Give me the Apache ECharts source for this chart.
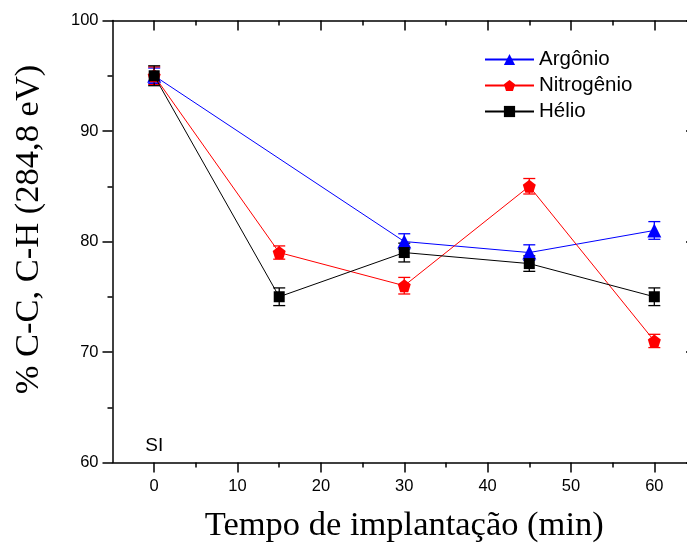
<!DOCTYPE html>
<html>
<head>
<meta charset="utf-8">
<script src="https://cdn.jsdelivr.net/npm/echarts@6/dist/echarts.min.js"></script>
<style>
html, body { margin: 0; padding: 0; background: #fff; }
#chart { width: 687px; height: 543px; }
</style>
</head>
<body>
<div id="chart"></div>
<script>
var xTicks = [0, 10, 20, 30, 40, 50, 60];
var xMinorTicks = [5, 15, 25, 35, 45, 55];
var yTicks = [60, 70, 80, 90, 100];

var argonX = [0, 30, 45, 60];
var argonY = [95, 80, 79, 81];
var argonErr = [0.7, 0.7, 0.7, 0.8];

var nitroX = [0, 15, 30, 45, 60];
var nitroY = [95, 79, 76, 85, 71];
var nitroErr = [0.8, 0.6, 0.75, 0.7, 0.6];

var helioX = [0, 15, 30, 45, 60];
var helioY = [95, 75, 79, 78, 75];
var helioErr = [0.9, 0.8, 0.85, 0.7, 0.8];

var pentagon = 'path://M0,-1 L0.951,-0.309 L0.588,0.809 L-0.588,0.809 L-0.951,-0.309 Z';

function pairs(xs, ys) {
	var out = [];
	for (var i = 0; i < xs.length; i++) out.push([xs[i], ys[i]]);
	return out;
}

function errData(xs, ys, es) {
	var out = [];
	for (var i = 0; i < xs.length; i++) out.push([xs[i], ys[i] - es[i], ys[i] + es[i]]);
	return out;
}

// barras de erro desenhadas com series custom
function errSeries(name, color, xs, ys, es) {
	return {
		name: name + ' (erro)',
		type: 'custom',
		data: errData(xs, ys, es),
		z: 1,
		silent: true,
		renderItem: function (params, api) {
			var x = api.value(0);
			var lo = api.coord([x, api.value(1)]);
			var hi = api.coord([x, api.value(2)]);
			var w = 6;
			var st = { stroke: color, lineWidth: 1.3 };
			return {
				type: 'group',
				children: [
					{ type: 'line', shape: { x1: lo[0], y1: lo[1], x2: hi[0], y2: hi[1] }, style: st },
					{ type: 'line', shape: { x1: lo[0] - w, y1: lo[1], x2: lo[0] + w, y2: lo[1] }, style: st },
					{ type: 'line', shape: { x1: hi[0] - w, y1: hi[1], x2: hi[0] + w, y2: hi[1] }, style: st }
				]
			};
		}
	};
}

var chart = echarts.init(document.getElementById('chart'));

var sans = 'Liberation Sans, Arial, sans-serif';
var serif = 'Liberation Serif, Times New Roman, serif';
var axisLine = { show: true, onZero: false, lineStyle: { color: '#000', width: 1.5 } };
var noLine = { show: false, onZero: false };
var tickStyle = { color: '#000', width: 1.5 };

// eixos x: principal, menores, e espelho no topo
function xAxisDef(pos, ticks, len, inside, withLine, withLabel) {
	var ax = {
		type: 'value',
		min: -5, max: 65, interval: 10,
		position: pos,
		axisLine: withLine ? axisLine : noLine,
		axisTick: { show: true, inside: inside, length: len, lineStyle: tickStyle, customValues: ticks },
		axisLabel: { show: false },
		splitLine: { show: false }
	};
	if (withLabel) {
		ax.axisLabel = { show: true, margin: 15, customValues: xTicks, color: '#000', fontSize: 16.5, fontFamily: sans };
		ax.name = 'Tempo de implantação (min)';
		ax.nameLocation = 'middle';
		ax.nameGap = 46;
		ax.nameTextStyle = { color: '#000', fontSize: 34.5, fontFamily: serif };
	}
	return ax;
}

var option = {
	animation: false,
	backgroundColor: '#fff',
	grid: { left: 112.5, width: 583.5, top: 20.5, height: 442, outerBoundsMode: 'none', containLabel: false },
	legend: {
		orient: 'vertical',
		left: 479,
		top: 44,
		itemWidth: 49,
		itemHeight: 14,
		itemGap: 5,
		textStyle: { color: '#000', fontSize: 20.5, fontFamily: sans },
		data: ['Argônio', 'Nitrogênio', 'Hélio']
	},
	xAxis: [
		xAxisDef('bottom', xTicks, 10, false, true, true),
		xAxisDef('bottom', xMinorTicks, 5, false, false, false),
		xAxisDef('top', xTicks, 10, true, true, false),
		xAxisDef('top', xMinorTicks, 5, true, false, false)
	],
	yAxis: [{
		type: 'value',
		min: 60, max: 100, interval: 10,
		position: 'left',
		name: '% C-C, C-H (284,8 eV)',
		nameLocation: 'middle',
		nameGap: 66,
		nameRotate: 90,
		nameTextStyle: { color: '#000', fontSize: 34.5, fontFamily: serif, padding: [0, 0, 0, 24] },
		axisLine: axisLine,
		axisTick: { show: true, length: 10, lineStyle: tickStyle },
		minorTick: { show: true, splitNumber: 2, length: 5, lineStyle: tickStyle },
		axisLabel: { margin: 14, color: '#000', fontSize: 16.5, fontFamily: sans },
		splitLine: { show: false }
	}, {
		type: 'value',
		min: 60, max: 100, interval: 10,
		position: 'right',
		axisLine: axisLine,
		axisTick: { show: true, inside: true, length: 10, lineStyle: tickStyle },
		minorTick: { show: true, splitNumber: 2, length: 5, lineStyle: tickStyle },
		axisLabel: { show: false },
		splitLine: { show: false }
	}],
	series: [
		{
			name: 'Argônio', type: 'line', data: pairs(argonX, argonY),
			symbol: 'triangle', symbolSize: 14, z: 3,
			itemStyle: { color: '#0000ff' }, lineStyle: { color: '#0000ff', width: 1 }
		},
		{
			name: 'Nitrogênio', type: 'line', data: pairs(nitroX, nitroY),
			symbol: pentagon, symbolSize: 13, z: 4,
			itemStyle: { color: '#ff0000' }, lineStyle: { color: '#ff0000', width: 1 }
		},
		{
			name: 'Hélio', type: 'line', data: pairs(helioX, helioY),
			symbol: 'rect', symbolSize: 11, z: 5,
			itemStyle: { color: '#000000' }, lineStyle: { color: '#000000', width: 1 }
		},
		errSeries('Argônio', '#0000ff', argonX, argonY, argonErr),
		errSeries('Nitrogênio', '#ff0000', nitroX, nitroY, nitroErr),
		errSeries('Hélio', '#000000', helioX, helioY, helioErr),
		{
			name: 'SI', type: 'scatter', data: [[0, 61.5]], symbolSize: 0, silent: true,
			itemStyle: { opacity: 1 },
			label: { show: true, position: 'inside', formatter: 'SI', color: '#000', textBorderWidth: 0, fontSize: 19, fontFamily: sans }
		}
	]
};

chart.setOption(option);
</script>
</body>
</html>
